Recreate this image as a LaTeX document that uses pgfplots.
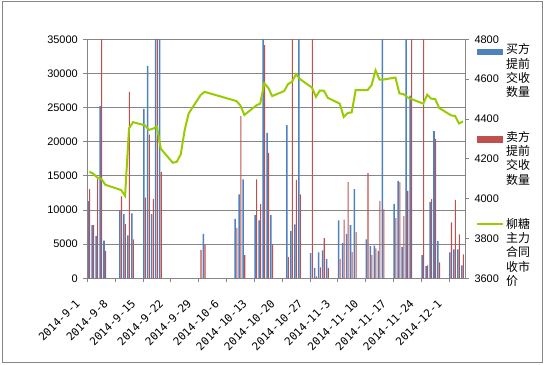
\documentclass[border=0pt]{standalone}
\usepackage{pgfplots}
\pgfplotsset{compat=1.18}
\usepackage{pgfplotstable}
\usepackage{fontspec}
\setmainfont{Liberation Sans}
\newfontfamily\monof{DejaVu Sans Mono}
\newfontfamily\cjk{Noto Sans CJK SC}
\definecolor{buyc}{HTML}{4F81BD}
\definecolor{sellc}{HTML}{C0504D}
\definecolor{pricec}{HTML}{99CC00}
\definecolor{gridc}{HTML}{868686}

% d = days since 2014-9-1
\pgfplotstableread{
d buy sell
0 11300 13050
1 7800 7800
2 6200 14600
3 25200 36000
4 5500 4000
8 9900 12000
9 9400 7950
10 6300 27300
11 9500 5700
14 24800 11800
15 31100 21050
16 9400 11600
17 36000 36000
18 36000 15600
28 0 4150
29 6500 4950
37 8700 7400
38 12300 23750
39 14500 3400
42 9250 14500
43 8500 10850
44 36000 34150
45 21300 18350
46 9250 4950
49 0 0
50 22450 3100
51 6900 36000
52 7900 14400
53 36000 12300
56 3700 36000
57 1500 300
58 3800 1600
59 4100 5900
60 2800 1500
63 8500 2800
64 5150 8600
65 6500 14100
66 7800 3850
67 13050 6750
70 5700 15400
71 4700 3400
72 4800 4400
73 4000 11300
74 36000 10100
77 10900 8800
78 14250 14100
79 4600 9100
80 36000 12800
81 26750 36000
84 3400 36000
85 1800 1900
86 11200 11600
87 21550 20400
88 5450 2350
91 3800 8200
92 4250 11500
93 4250 6450
94 1900 3500
}\bars

\pgfplotstableread{
d price
0 4135
1 4125
2 4106
3 4100
4 4070
8 4043
9 4014
10 4353
11 4384
14 4368
15 4345
16 4351
17 4361
18 4250
21 4180
22 4185
23 4222
24 4345
25 4428
28 4520
29 4536
37 4490
38 4468
39 4420
42 4468
43 4477
44 4579
45 4557
46 4515
49 4540
50 4575
51 4587
52 4625
53 4600
56 4558
57 4511
58 4543
59 4542
60 4506
63 4477
64 4410
65 4430
66 4433
67 4545
70 4545
71 4570
72 4644
73 4598
74 4598
77 4608
78 4528
79 4525
80 4509
81 4500
84 4477
85 4522
86 4502
87 4500
88 4455
91 4418
92 4415
93 4377
94 4388
}\price

\begin{document}
\begin{tikzpicture}[x=1bp,y=1bp]
\useasboundingbox (0,0) rectangle (545,364);
\draw[gridc, line width=0.8bp] (2,1.5) rectangle (542,363);
\pgfplotsset{
  common/.style={
    at={(87.3bp,85.7bp)}, anchor=south west,
    scale only axis, width=377.7bp, height=239bp,
    xmin=0, xmax=95,
    axis line style={gridc, line width=0.8bp},
    tick style={gridc, line width=0.8bp},
    tick align=outside, major tick length=4bp,
    /pgf/number format/assume math mode=true,
    /pgf/number format/1000 sep={},
    ticklabel style={font=\fontsize{11}{13}\selectfont},
  }
}
\begin{axis}[common,
  ymin=0, ymax=35000,
  ytick={0,5000,...,35000},
  scaled y ticks=false,
  ytick pos=left, xtick pos=bottom,
  ymajorgrids, grid style={gridc, line width=0.8bp},
  yticklabel style={xshift=-2bp},
  xtick={0,7,...,91},
  xticklabels={2014-9-1,2014-9-8,2014-9-15,2014-9-22,2014-9-29,2014-10-6,2014-10-13,2014-10-20,2014-10-27,2014-11-3,2014-11-10,2014-11-17,2014-11-24,2014-12-1},
  xticklabel style={xshift=-7bp, yshift=-17bp, rotate=45, anchor=east, font=\monof\fontsize{11}{13}\selectfont},
  ybar, bar shift=0pt,
]
\addplot[fill=buyc, draw=none, bar width=0.38] table[x expr=\thisrow{d}+0.2, y=buy] {\bars};
\addplot[fill=sellc, draw=none, bar width=0.26] table[x expr=\thisrow{d}+0.6, y=sell] {\bars};
\end{axis}
\begin{axis}[common,
  ymin=3600, ymax=4800,
  ytick={3600,3800,...,4800},
  hide x axis,
  ytick pos=right,
  yticklabel style={xshift=2bp},
]
\addplot[pricec, line width=2bp, mark=none] table[x expr=\thisrow{d}+0.5, y=price] {\price};
\end{axis}
% legend
\fill[buyc] (477,309) rectangle (503,315.5);
\node[anchor=north west, inner sep=0pt, align=left, font=\cjk\fontsize{12}{14.3}\selectfont] at (506,320.5) {买方\\提前\\交收\\数量};
\fill[sellc] (477,221.5) rectangle (503,228);
\node[anchor=north west, inner sep=0pt, align=left, font=\cjk\fontsize{12}{14.3}\selectfont] at (506,233) {卖方\\提前\\交收\\数量};
\draw[pricec, line width=2bp] (477,139.7) -- (503,139.7);
\node[anchor=north west, inner sep=0pt, align=left, font=\cjk\fontsize{12}{14.3}\selectfont] at (506,146) {柳糖\\主力\\合同\\收市\\价};
\end{tikzpicture}
\end{document}
